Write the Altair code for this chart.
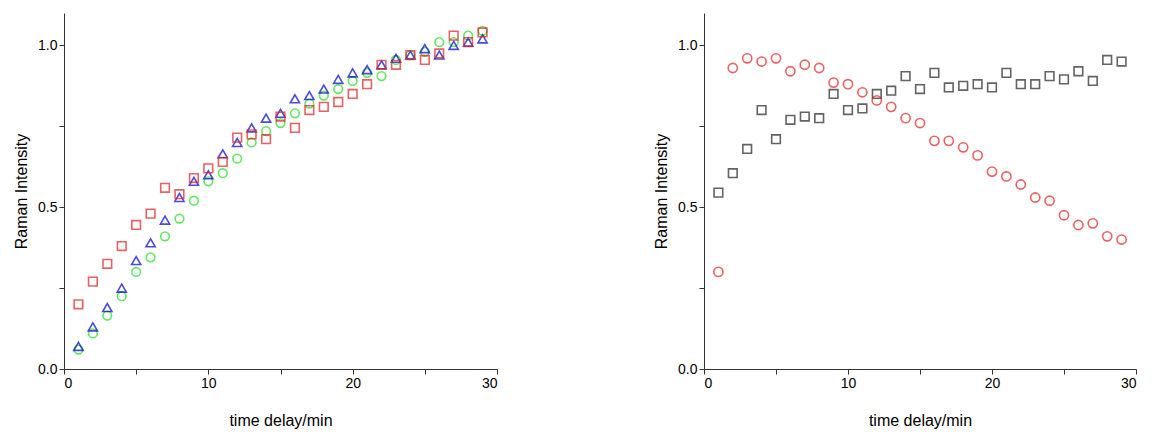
import altair as alt
import pandas as pd

t = list(range(1, 30))
left_square = [0.20, 0.27, 0.325, 0.38, 0.445, 0.48, 0.56, 0.54, 0.59, 0.62, 0.64, 0.715, 0.725, 0.71, 0.78,
               0.745, 0.80, 0.81, 0.825, 0.85, 0.88, 0.94, 0.94, 0.97, 0.955, 0.975, 1.03, 1.01, 1.04]
left_triangle = [0.07, 0.13, 0.19, 0.25, 0.335, 0.39, 0.46, 0.53, 0.58, 0.60, 0.665, 0.70, 0.745, 0.775, 0.79,
                 0.835, 0.845, 0.865, 0.895, 0.915, 0.925, 0.94, 0.96, 0.97, 0.99, 0.97, 1.0, 1.01, 1.02]
left_circle = [0.06, 0.11, 0.165, 0.225, 0.30, 0.345, 0.41, 0.465, 0.52, 0.58, 0.605, 0.65, 0.70, 0.735, 0.76,
               0.79, 0.82, 0.845, 0.865, 0.89, 0.915, 0.905, 0.955, 0.97, 0.98, 1.01, 1.01, 1.03, 1.045]
right_circle = [0.30, 0.93, 0.96, 0.95, 0.96, 0.92, 0.94, 0.93, 0.885, 0.88, 0.855, 0.83, 0.81, 0.775, 0.76,
                0.705, 0.705, 0.685, 0.66, 0.61, 0.595, 0.57, 0.53, 0.52, 0.475, 0.445, 0.45, 0.41, 0.40]
right_square = [0.545, 0.605, 0.68, 0.80, 0.71, 0.77, 0.78, 0.775, 0.85, 0.80, 0.805, 0.85, 0.86, 0.905, 0.865,
                0.915, 0.87, 0.875, 0.88, 0.87, 0.915, 0.88, 0.88, 0.905, 0.895, 0.92, 0.89, 0.955, 0.95]

FONT = "Liberation Sans"

x_enc = alt.X('t:Q', title='time delay/min', scale=alt.Scale(domain=[0, 30], nice=False),
              axis=alt.Axis(values=list(range(0, 31, 5)), grid=False, format='d',
                            labelExpr="datum.value % 10 == 0 ? datum.label : ''"))
y_enc = alt.Y('v:Q', title='Raman Intensity', scale=alt.Scale(domain=[0, 1.1], nice=False),
              axis=alt.Axis(values=[0, 0.25, 0.5, 0.75, 1.0], grid=False, format='.1f',
                            labelExpr="datum.value % 0.5 == 0 ? datum.label : ''"))


def series(vals, shape, color, size=75):
    df = pd.DataFrame({'t': t, 'v': vals})
    return alt.Chart(df).mark_point(shape=shape, filled=False, color=color, size=size, strokeWidth=1.6).encode(
        x=x_enc, y=y_enc)


left = alt.layer(
    series(left_circle, 'circle', '#22dd22'),
    series(left_triangle, 'triangle-up', '#0000cc', 85),
    series(left_square, 'square', '#dd2222'),
).properties(width=433, height=356)

right = alt.layer(
    series(right_square, 'square', '#222222'),
    series(right_circle, 'circle', '#dd2222', 85),
).properties(width=432, height=356)

chart = alt.hconcat(left, right, spacing=155).configure_view(stroke=None).configure_axis(
    labelFont=FONT, titleFont=FONT, labelFontSize=14, titleFontSize=16, titleFontWeight='normal',
    labelColor='black', titleColor='black', domainColor='#333', tickColor='#333', tickSize=5
).configure_axisX(titlePadding=22).configure_axisY(titlePadding=8)

chart.save("out.html", embed_options={"renderer": "svg", "actions": False})
